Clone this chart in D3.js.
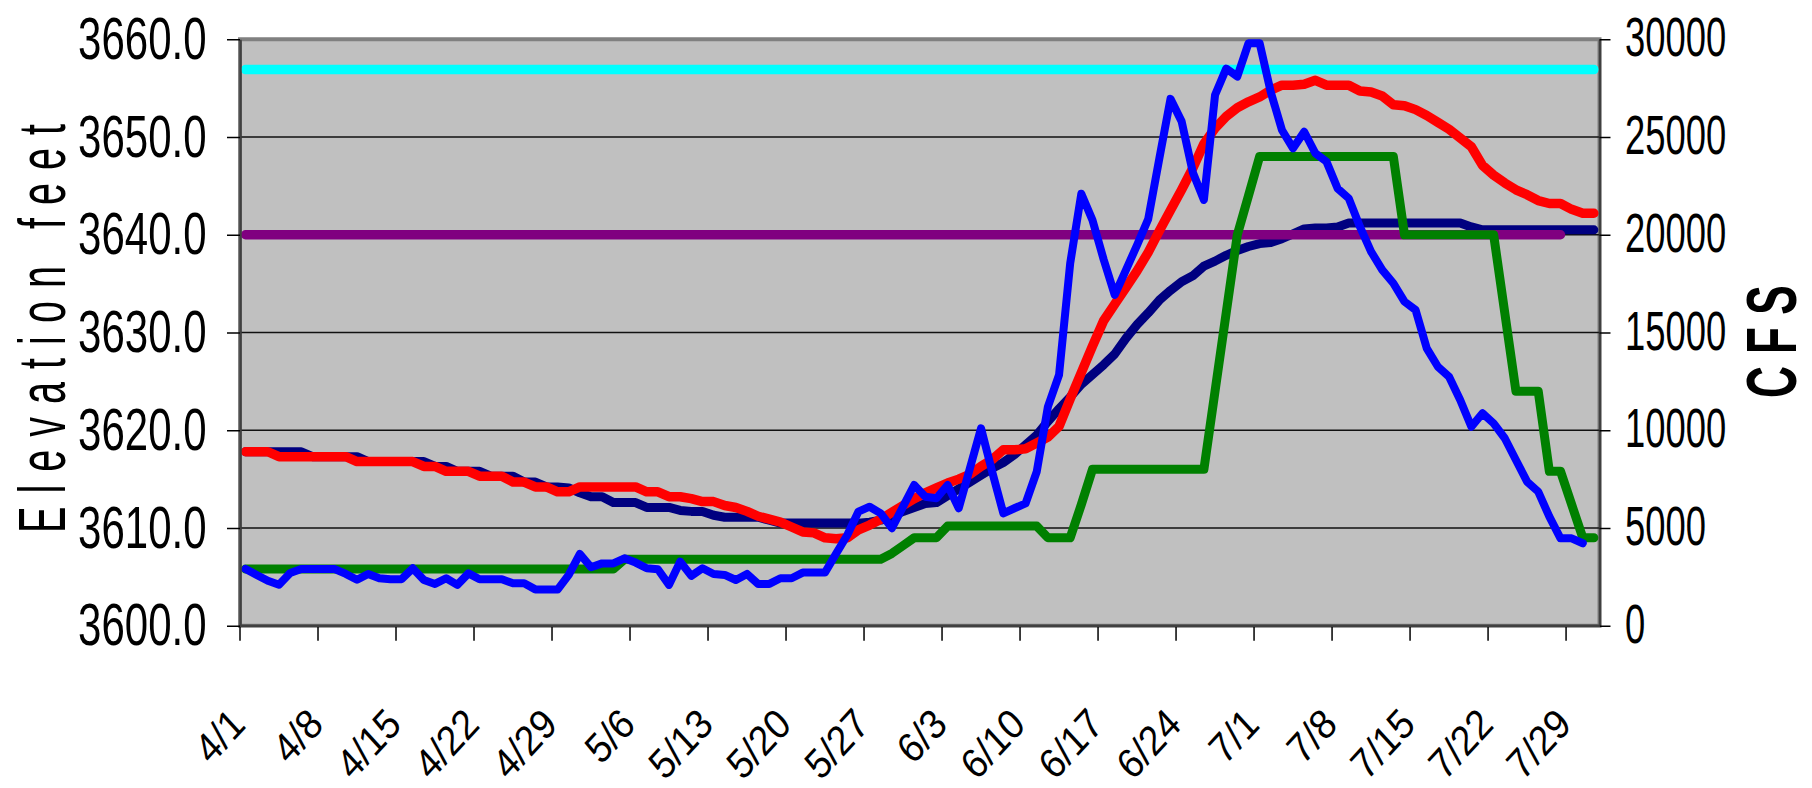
<!DOCTYPE html>
<html><head><meta charset="utf-8">
<script src="https://cdn.jsdelivr.net/npm/d3@7"></script>
<style>html,body{margin:0;padding:0;background:#fff;} svg{display:block;}</style>
</head><body>
<svg id="chart" width="1812" height="788"></svg>
<script>
// ---------- data ----------
const startDate = new Date(2009, 3, 1);   // 4/1
const endDate   = new Date(2009, 7, 1);   // exclusive -> last day 7/31
const categories = d3.timeDays(startDate, endDate).map(d3.timeFormat("%-m/%-d"));

const tickLabels = ["4/1","4/8","4/15","4/22","4/29","5/6","5/13","5/20","5/27",
                    "6/3","6/10","6/17","6/24","7/1","7/8","7/15","7/22","7/29"];
const elevationTicks = [3600, 3610, 3620, 3630, 3640, 3650, 3660];
const flowTicks = [0, 5000, 10000, 15000, 20000, 25000, 30000];

// red: elevation (feet)
const elevationActual = [
  3617.8,3617.8,3617.8,3617.3,3617.3,3617.3,3617.3,
  3617.3,3617.3,3617.3,3616.8,3616.8,3616.8,3616.8,
  3616.8,3616.8,3616.3,3616.3,3615.8,3615.8,3615.8,
  3615.3,3615.3,3615.3,3614.7,3614.7,3614.2,3614.2,
  3613.7,3613.7,3614.2,3614.2,3614.2,3614.2,3614.2,
  3614.2,3613.7,3613.7,3613.2,3613.2,3613.0,3612.7,
  3612.7,3612.3,3612.1,3611.7,3611.2,3610.9,3610.6,
  3610.1,3609.6,3609.5,3609.0,3608.9,3609.0,3609.8,
  3610.3,3610.9,3611.6,3612.3,3613.0,3613.6,3614.1,
  3614.6,3615.0,3615.5,3616.3,3617.0,3618.0,3618.0,
  3618.1,3618.7,3619.3,3620.4,3623.2,3625.9,3628.6,
  3631.2,3632.9,3634.6,3636.3,3638.2,3640.4,3642.5,
  3644.6,3646.8,3649.3,3650.9,3652.1,3653.0,3653.6,
  3654.1,3654.8,3655.3,3655.3,3655.4,3655.8,3655.3,
  3655.3,3655.3,3654.7,3654.6,3654.2,3653.3,3653.2,
  3652.8,3652.2,3651.5,3650.8,3649.9,3649.0,3647.1,
  3646.1,3645.3,3644.6,3644.1,3643.5,3643.2,3643.2,
  3642.6,3642.2,3642.2
];
// navy: second elevation series (feet)
const elevationOther = [
  3617.8,3617.8,3617.8,3617.8,3617.8,3617.8,3617.3,
  3617.3,3617.3,3617.3,3617.3,3616.8,3616.8,3616.8,
  3616.8,3616.8,3616.8,3616.3,3616.3,3615.8,3615.8,
  3615.8,3615.3,3615.3,3615.3,3614.7,3614.7,3614.2,
  3614.2,3614.1,3613.6,3613.2,3613.2,3612.6,3612.6,
  3612.6,3612.1,3612.1,3612.1,3611.8,3611.7,3611.7,
  3611.3,3611.1,3611.1,3611.1,3611.1,3610.8,3610.5,
  3610.5,3610.5,3610.5,3610.5,3610.5,3610.5,3610.5,
  3610.6,3610.8,3611.2,3611.7,3612.1,3612.5,3612.6,
  3613.3,3614.0,3614.7,3615.4,3616.1,3616.7,3617.5,
  3618.5,3619.5,3620.9,3622.2,3623.4,3624.7,3625.7,
  3626.7,3627.8,3629.4,3630.8,3632.0,3633.3,3634.3,
  3635.2,3635.8,3636.8,3637.3,3637.9,3638.4,3638.8,
  3639.1,3639.2,3639.6,3640.1,3640.6,3640.7,3640.7,
  3640.8,3641.2,3641.2,3641.2,3641.2,3641.2,3641.2,
  3641.2,3641.2,3641.2,3641.2,3641.2,3640.8,3640.5,
  3640.5,3640.5,3640.5,3640.5,3640.5,3640.5,3640.5,
  3640.5,3640.5,3640.5
];
// blue: flow (CFS)
const flowBlue = [
  2900,2600,2300,2100,2700,2900,2900,
  2900,2900,2650,2350,2650,2430,2380,
  2380,2940,2340,2140,2430,2090,2680,
  2380,2380,2380,2170,2170,1860,1860,
  1850,2600,3670,2990,3190,3190,3450,
  3230,2940,2890,2090,3280,2550,2940,
  2650,2600,2340,2650,2140,2140,2430,
  2430,2720,2720,2720,3700,4640,5840,
  6090,5750,4990,6090,7200,6600,6520,
  7200,6010,8050,10100,7880,5750,6010,
  6260,7880,11200,12830,18540,22100,20750,
  18740,16920,18190,19470,20800,23900,26950,
  25800,23200,21780,27150,28500,28090,29800,
  29800,27300,25360,24420,25270,24170,23740,
  22370,21860,20410,19140,18200,17520,16580,
  16150,14190,13250,12740,11550,10180,10870,
  10350,9590,8480,7370,6860,5580,4470,
  4470,4220,null
];
// green: flow (CFS)
const flowGreen = [
  2900,2900,2900,2900,2900,2900,2900,
  2900,2900,2900,2900,2900,2900,2900,
  2900,2900,2900,2900,2900,2900,2900,
  2900,2900,2900,2900,2900,2900,2900,
  2900,2900,2900,2900,2900,2900,3400,
  3400,3400,3400,3400,3400,3400,3400,
  3400,3400,3400,3400,3400,3400,3400,
  3400,3400,3400,3400,3400,3400,3400,
  3400,3400,3700,4100,4500,4500,4500,
  5100,5100,5100,5100,5100,5100,5100,
  5100,5100,4500,4500,4500,6200,8000,
  8000,8000,8000,8000,8000,8000,8000,
  8000,8000,8000,12000,16000,20000,22000,
  24000,24000,24000,24000,24000,24000,24000,
  24000,24000,24000,24000,24000,24000,20000,
  20000,20000,20000,20000,20000,20000,20000,
  20000,16000,12000,12000,12000,7900,7900,
  6200,4500,4500
];
// constant reference levels (feet)
const upperLevel = 3656.9, upperLevelEnd = "7/31";   // cyan
const lowerLevel = 3640,   lowerLevelEnd = "7/28";   // purple

// ---------- chart ----------
const FONT = "'Liberation Sans', Arial, Helvetica, sans-serif";
const svg = d3.select("#chart");
const L = 240, R = 1599.5, T = 39.25, B = 625.75;

const x = d3.scaleBand().domain(categories).range([L, R]).padding(0);
const bw = x.bandwidth();
const cx = c => x(c) + bw / 2;
const yE = d3.scaleLinear().domain([3600, 3660]).range([B, T]);
const yQ = d3.scaleLinear().domain([0, 30000]).range([B, T]);

// plot area
svg.append("rect").attr("x", L).attr("y", T).attr("width", R - L).attr("height", B - T)
  .attr("fill", "#c0c0c0").attr("stroke", "#808080").attr("stroke-width", 4);

// gridlines
svg.append("g").selectAll("line").data(elevationTicks.slice(1, -1)).join("line")
  .attr("x1", L).attr("x2", R).attr("y1", d => yE(d)).attr("y2", d => yE(d))
  .attr("stroke", "#111").attr("stroke-width", 1.3);

const toPts = arr => categories.map((c, i) => ({ c, v: arr[i] }));
const levelPts = (v, end) => categories.slice(0, categories.indexOf(end) + 1).map(c => ({ c, v }));
const lineE = d3.line().defined(d => d.v != null).x(d => cx(d.c)).y(d => yE(d.v));
const lineQ = d3.line().defined(d => d.v != null).x(d => cx(d.c)).y(d => yQ(d.v));

const layers = [
  { pts: toPts(elevationOther), gen: lineE, color: "#000080", w: 9 },
  { pts: levelPts(lowerLevel, lowerLevelEnd), gen: lineE, color: "#800080", w: 9.5 },
  { pts: levelPts(upperLevel, upperLevelEnd), gen: lineE, color: "#00ffff", w: 9.5 },
  { pts: toPts(elevationActual), gen: lineE, color: "#ff0000", w: 9.5 },
  { pts: toPts(flowGreen), gen: lineQ, color: "#008000", w: 9 },
  { pts: toPts(flowBlue), gen: lineQ, color: "#0000ff", w: 8 }
];
const gLines = svg.append("g");
layers.forEach(s => {
  gLines.append("path").attr("d", s.gen(s.pts)).attr("fill", "none")
    .attr("stroke", s.color).attr("stroke-width", s.w)
    .attr("stroke-linejoin", "round").attr("stroke-linecap", "round");
});

// left axis
const gl = svg.append("g").attr("transform", `translate(${L},0)`)
  .call(d3.axisLeft(yE).tickValues(elevationTicks).tickSize(13).tickSizeOuter(0).tickFormat(d3.format(".1f")));
gl.attr("font-family", FONT).attr("font-size", 60);
gl.select(".domain").attr("stroke", "#404040").attr("stroke-width", 2.5);
gl.selectAll(".tick line").attr("stroke", "#000").attr("stroke-width", 1.5);
gl.selectAll(".tick text").attr("x", 0).attr("dy", "0.35em").attr("fill", "#000")
  .attr("text-anchor", "end").attr("transform", "translate(-33.5,-2) scale(0.7,1)");

// right axis
const gr = svg.append("g").attr("transform", `translate(${R},0)`)
  .call(d3.axisRight(yQ).tickValues(flowTicks).tickSize(11).tickSizeOuter(0).tickFormat(d3.format("d")));
gr.attr("font-family", FONT).attr("font-size", 56);
gr.select(".domain").attr("stroke", "#404040").attr("stroke-width", 2.5);
gr.selectAll(".tick line").attr("stroke", "#000").attr("stroke-width", 1.5);
gr.selectAll(".tick text").attr("x", 0).attr("dy", "0.35em").attr("fill", "#000")
  .attr("text-anchor", "start").attr("transform", "translate(25.5,-3) scale(0.65,1)");

// bottom axis (ticks on category boundaries)
const gb = svg.append("g").attr("transform", `translate(${-bw / 2},${B})`)
  .call(d3.axisBottom(x).tickValues(tickLabels).tickSize(15).tickSizeOuter(0));
gb.attr("font-family", FONT).attr("font-size", 42);
gb.select(".domain").remove();
gb.selectAll(".tick line").attr("stroke", "#000").attr("stroke-width", 1.5);
gb.selectAll(".tick text").attr("x", 0).attr("y", 0).attr("dy", "0.716em").attr("fill", "#000")
  .attr("text-anchor", "end")
  .attr("transform", `translate(${bw / 2 - 18},79.5) scale(0.92,1) rotate(-45) scale(0.95,1)`);
svg.append("line").attr("x1", L).attr("x2", R).attr("y1", B).attr("y2", B)
  .attr("stroke", "#404040").attr("stroke-width", 2.5);

// axis titles
svg.append("text").attr("transform", "translate(65,533) rotate(-90) scale(0.59,1)")
  .attr("font-family", FONT).attr("font-size", 67).attr("letter-spacing", 22.1)
  .attr("text-anchor", "start").attr("fill", "#000").text("Elevation feet");
svg.append("text").attr("transform", "translate(1796,341.7) rotate(-90) scale(0.63,1)")
  .attr("font-family", FONT).attr("font-size", 70).attr("font-weight", "bold")
  .attr("text-anchor", "middle").attr("fill", "#000").text("C F S");
</script>
</body></html>
